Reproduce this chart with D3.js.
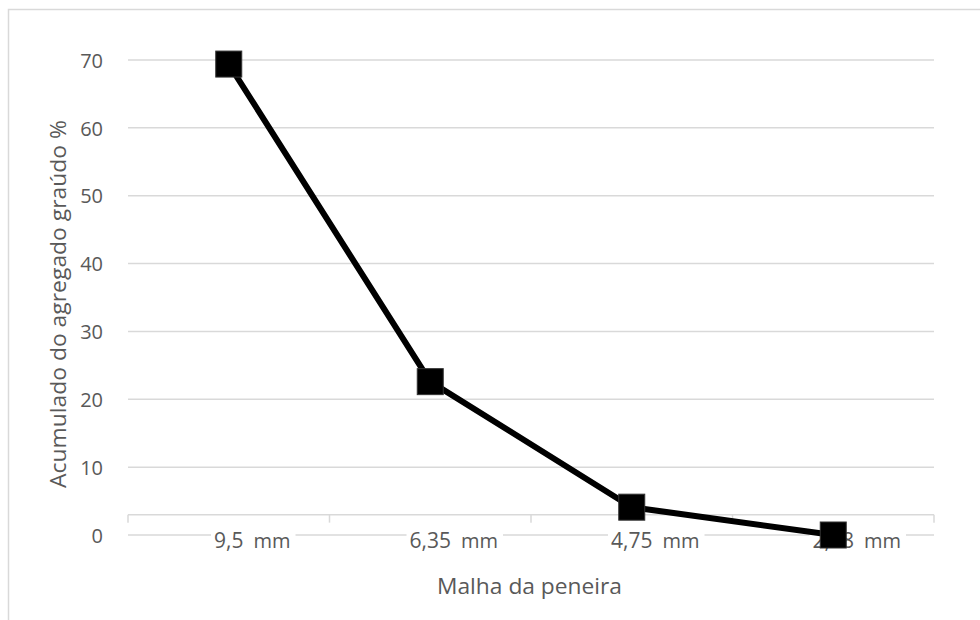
<!DOCTYPE html>
<html>
<head>
<meta charset="utf-8">
<script src="https://cdn.jsdelivr.net/npm/d3@7"></script>
<style>
  html, body { margin: 0; padding: 0; background: #fff; }
  svg { display: block; font-family: "Open Sans", sans-serif; }
</style>
</head>
<body>
<svg id="chart" width="980" height="620"></svg>
<script>
// ---- data ----
const categories = ["9,5", "6,35", "4,75", "2,38"];
const unitLabel = "mm";
const values = [69.4, 22.6, 4.1, 0.0];
const yTicks = [0, 10, 20, 30, 40, 50, 60, 70];
const yTitle = "Acumulado do agregado graúdo %";
const xTitle = "Malha da peneira";
const categoryAxisAt = 3;

// ---- layout ----
const svg = d3.select("#chart");
const plot = { left: 128, right: 934, top: 60, bottom: 535 };
const textColor = "#595959";
const gridColor = "#d9d9d9";

// frame
svg.append("rect").attr("x", 8.5).attr("y", 9.5).attr("width", 1000).attr("height", 1000)
  .attr("fill", "#fff").attr("stroke", gridColor).attr("stroke-width", 1.5);

const x = d3.scaleBand().domain(categories).range([plot.left, plot.right]).padding(0);
const y = d3.scaleLinear().domain([0, 70]).range([plot.bottom, plot.top]);

// gridlines
svg.append("g").selectAll("line").data(yTicks).join("line")
  .attr("x1", plot.left).attr("x2", plot.right)
  .attr("y1", d => y(d)).attr("y2", d => y(d))
  .attr("stroke", gridColor).attr("stroke-width", 1.5);

// y tick labels
const yAxis = d3.axisLeft(y).tickValues(yTicks).tickSize(0).tickPadding(0).tickFormat(d3.format("d"));
const gy = svg.append("g").attr("transform", `translate(${plot.left - 25},0)`).call(yAxis);
gy.select(".domain").remove();
gy.selectAll("text").attr("fill", textColor).attr("font-size", 20)
  .attr("font-family", "'Open Sans', sans-serif").attr("dy", "0.36em");

// category axis line with tick marks at band boundaries
const axisY = y(categoryAxisAt);
const bounds = categories.map(c => x(c)).concat([x(categories[categories.length - 1]) + x.bandwidth()]);
const gx = svg.append("g");
gx.append("line").attr("x1", plot.left).attr("x2", plot.right)
  .attr("y1", axisY).attr("y2", axisY).attr("stroke", gridColor).attr("stroke-width", 1.5);
gx.selectAll("line.tk").data(bounds).join("line").attr("class", "tk")
  .attr("x1", d => d).attr("x2", d => d).attr("y1", axisY).attr("y2", axisY + 8)
  .attr("stroke", gridColor).attr("stroke-width", 1.5);

// category labels (number centred on category, unit appended)
const labelBase = plot.bottom + 13;
const lg = svg.append("g");
categories.forEach(c => {
  const cx = x(c) + x.bandwidth() / 2;
  const g = lg.append("g");
  const bg = g.append("rect").attr("fill", "#fff");
  const t1 = g.append("text").attr("x", cx).attr("y", labelBase)
    .attr("text-anchor", "middle").attr("fill", textColor).attr("font-size", 21).text(c);
  const w1 = t1.node().getComputedTextLength();
  const t2 = g.append("text").attr("x", cx + w1 / 2 + 10).attr("y", labelBase)
    .attr("fill", textColor).attr("font-size", 20).text(unitLabel);
  const w2 = t2.node().getComputedTextLength();
  bg.attr("x", cx - w1 / 2 - 3).attr("y", plot.bottom - 2)
    .attr("width", w1 + 10 + w2 + 8).attr("height", 20);
});

// line
const line = d3.line().x((d, i) => x(categories[i]) + x.bandwidth() / 2).y(d => y(d));
svg.append("path").datum(values).attr("d", line)
  .attr("fill", "none").attr("stroke", "#000").attr("stroke-width", 6).attr("stroke-linejoin", "round");

// markers
const ms = 26;
svg.append("g").selectAll("rect").data(values).join("rect")
  .attr("x", (d, i) => x(categories[i]) + x.bandwidth() / 2 - ms / 2)
  .attr("y", d => y(d) - ms / 2)
  .attr("width", ms).attr("height", ms)
  .attr("fill", "#000").attr("stroke", "#333").attr("stroke-width", 1);

// axis titles
svg.append("text").attr("transform", `translate(66,304) rotate(-90)`)
  .attr("text-anchor", "middle").attr("fill", textColor).attr("font-size", 22)
  .attr("textLength", 368).attr("lengthAdjust", "spacingAndGlyphs").text(yTitle);
svg.append("text").attr("x", 529.5).attr("y", 594)
  .attr("text-anchor", "middle").attr("fill", textColor).attr("font-size", 22)
  .attr("textLength", 185).attr("lengthAdjust", "spacingAndGlyphs").text(xTitle);
</script>
</body>
</html>
